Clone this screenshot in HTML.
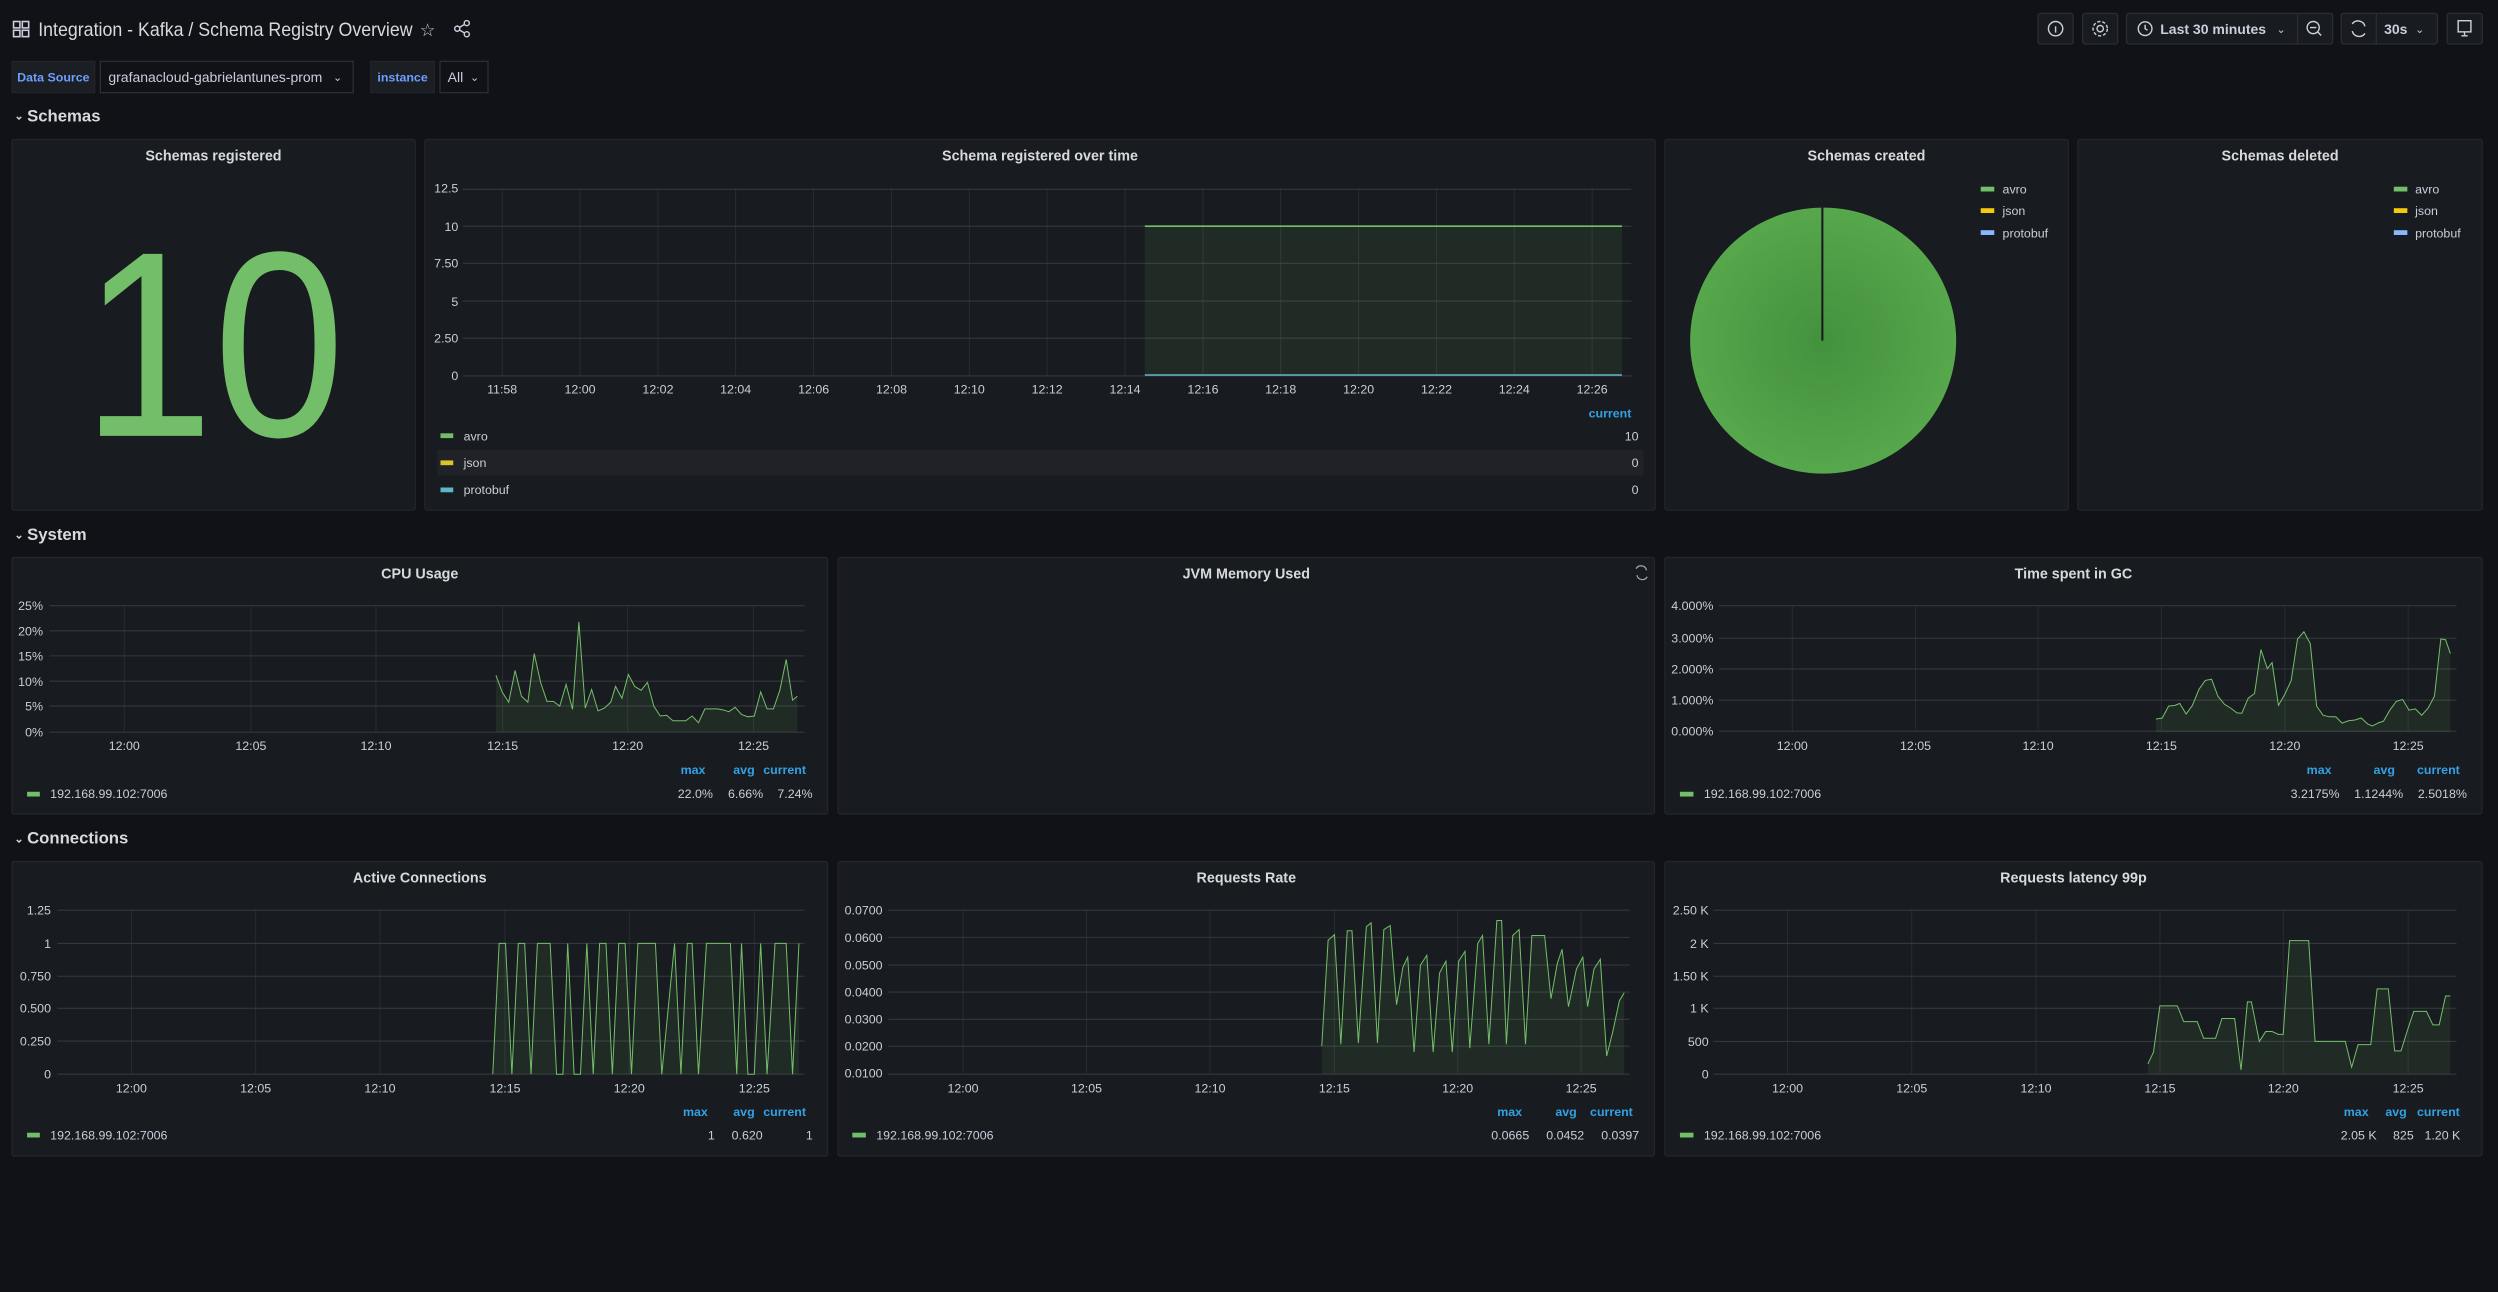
<!DOCTYPE html>
<html><head><meta charset="utf-8"><style>
html,body{margin:0;padding:0;background:#111217;}
svg{display:block;}
text{font-family:"Liberation Sans",sans-serif;}
</style></head><body>
<svg width="2498" height="1292" viewBox="0 0 1568 811" preserveAspectRatio="none" xmlns="http://www.w3.org/2000/svg">
<defs>
<radialGradient id="pg" cx="0.5" cy="0.5" r="0.5"><stop offset="0" stop-color="#43913d"/><stop offset="1" stop-color="#57a74c"/></radialGradient>
</defs>
<rect width="1568" height="811" fill="#111217"/>
<!-- header -->
<g fill="none" stroke="#ccccdc" stroke-width="1"><rect x="8.5" y="13.5" width="4" height="4"/><rect x="14" y="13.5" width="4" height="4"/><rect x="8.5" y="19" width="4" height="4"/><rect x="14" y="19" width="4" height="4"/></g>
<text x="24" y="22.6" font-size="12" fill="#d8d9da" textLength="235" lengthAdjust="spacingAndGlyphs">Integration - Kafka  / Schema Registry Overview</text>
<text x="263.5" y="22.5" font-size="11" fill="#ccccdc">☆</text>
<g stroke="#ccccdc" stroke-width="0.9" fill="none"><circle cx="287" cy="18" r="1.6"/><circle cx="293" cy="14.5" r="1.6"/><circle cx="293" cy="21.5" r="1.6"/><path d="M288.4 17.2L291.6 15.3M288.4 18.8L291.6 20.7"/></g>
<g fill="#181b1f" stroke="#2a2d33" stroke-width="0.8">
<rect x="1279.3" y="8.4" width="22" height="19.2" rx="1.5"/>
<rect x="1307.3" y="8.4" width="22" height="19.2" rx="1.5"/>
<rect x="1334.8" y="8.4" width="129.4" height="19.2" rx="1.5"/>
<rect x="1469.6" y="8.4" width="60.4" height="19.2" rx="1.5"/>
<rect x="1536.1" y="8.4" width="22" height="19.2" rx="1.5"/>
</g>
<g stroke="#2a2d33" stroke-width="0.8"><line x1="1442.2" y1="8.4" x2="1442.2" y2="27.6"/><line x1="1491.6" y1="8.4" x2="1491.6" y2="27.6"/></g>
<g stroke="#ccccdc" stroke-width="0.9" fill="none">
<circle cx="1290.3" cy="18" r="4.5"/><line x1="1290.3" y1="16.5" x2="1290.3" y2="20.5"/>
<circle cx="1318.3" cy="18" r="2"/><circle cx="1318.3" cy="18" r="4.5" stroke-dasharray="2 1.2"/>
<circle cx="1346.5" cy="18" r="4.3"/><path d="M1346.5 15.5V18L1348 19"/>
<circle cx="1452" cy="17.3" r="3.8"/><line x1="1450" y1="17.3" x2="1454" y2="17.3"/><line x1="1454.8" y1="20" x2="1457" y2="22.3"/>
<path d="M1476.5 15A4.5 4.5 0 0 1 1484.5 16.5M1484.5 21A4.5 4.5 0 0 1 1476.5 19.5"/>
<rect x="1543" y="13" width="8" height="7"/><path d="M1545 22.5H1549M1547 20V22.5"/>
</g>
<text x="1356" y="21.3" font-size="8.8" fill="#ccccdc" font-weight="bold">Last 30 minutes</text>
<text x="1429" y="20.8" font-size="7" fill="#ccccdc">⌄</text>
<text x="1496.5" y="21.3" font-size="8.8" fill="#ccccdc" font-weight="bold">30s</text>
<text x="1516" y="20.8" font-size="7" fill="#ccccdc">⌄</text>
<!-- variables -->
<rect x="7.5" y="38.5" width="52" height="19.7" fill="#1b1e23" stroke="#24272c" stroke-width="0.6"/>
<text x="33.5" y="51.3" font-size="7.8" fill="#6e9fff" text-anchor="middle" font-weight="bold">Data Source</text>
<rect x="63" y="38.5" width="158.7" height="19.7" fill="#111217" stroke="#2c2f35" stroke-width="0.8"/>
<text x="68" y="51.5" font-size="8.8" fill="#ccccdc">grafanacloud-gabrielantunes-prom</text>
<text x="209" y="51" font-size="7" fill="#ccccdc">⌄</text>
<rect x="232.7" y="38.5" width="40" height="19.7" fill="#1b1e23" stroke="#24272c" stroke-width="0.6"/>
<text x="252.7" y="51.3" font-size="7.8" fill="#6e9fff" text-anchor="middle" font-weight="bold">instance</text>
<rect x="276.2" y="38.5" width="30.1" height="19.7" fill="#111217" stroke="#2c2f35" stroke-width="0.8"/>
<text x="281" y="51.5" font-size="8.8" fill="#ccccdc">All</text>
<text x="295" y="51" font-size="7" fill="#ccccdc">⌄</text>
<!-- row headers -->
<g font-size="10.5" fill="#d8d9da" font-weight="bold">
<text x="9" y="75" font-size="7">⌄</text><text x="17" y="76.3">Schemas</text>
<text x="9" y="338" font-size="7">⌄</text><text x="17" y="339">System</text>
<text x="9" y="529" font-size="7">⌄</text><text x="17" y="529.5">Connections</text>
</g>
<!-- panels -->
<g fill="#181b1f" stroke="#22252b" stroke-width="0.8">
<rect x="7.5" y="87.5" width="253.2" height="232.7" rx="1.5"/>
<rect x="266.7" y="87.5" width="772.3" height="232.7" rx="1.5"/>
<rect x="1045" y="87.5" width="253.3" height="232.7" rx="1.5"/>
<rect x="1304.3" y="87.5" width="253.8" height="232.7" rx="1.5"/>
<rect x="7.5" y="349.9" width="512" height="161.1" rx="1.5"/>
<rect x="526" y="349.9" width="512.5" height="161.1" rx="1.5"/>
<rect x="1045" y="349.9" width="513" height="161.1" rx="1.5"/>
<rect x="7.5" y="540.8" width="512" height="184.9" rx="1.5"/>
<rect x="526" y="540.8" width="512.5" height="184.9" rx="1.5"/>
<rect x="1045" y="540.8" width="513" height="184.9" rx="1.5"/>
</g>
<g font-size="9" fill="#d8d9da" text-anchor="middle" font-weight="bold">
<text x="134" y="100.8">Schemas registered</text>
<text x="652.8" y="100.8">Schema registered over time</text>
<text x="1171.6" y="100.8">Schemas created</text>
<text x="1431.2" y="100.8">Schemas deleted</text>
<text x="263.5" y="363">CPU Usage</text>
<text x="782.3" y="363">JVM Memory Used</text>
<text x="1301.5" y="363">Time spent in GC</text>
<text x="263.5" y="554">Active Connections</text>
<text x="782.3" y="554">Requests Rate</text>
<text x="1301.5" y="554">Requests latency 99p</text>
</g>
<g stroke="#9fa2a8" stroke-width="0.8" fill="none"><path d="M1027 357A3.5 3.5 0 0 1 1033.5 358M1034 362A3.5 3.5 0 0 1 1027.5 361"/></g>
<!-- big 10 -->
<text x="134" y="273.6" font-size="166" fill="#73bf69" text-anchor="middle" textLength="165" lengthAdjust="spacingAndGlyphs">10</text>

<!-- schema over time -->
<g stroke="#2a2d33" stroke-width="0.6">
<line x1="315.2" y1="118" x2="315.2" y2="236"/><line x1="364.1" y1="118" x2="364.1" y2="236"/><line x1="413" y1="118" x2="413" y2="236"/><line x1="461.8" y1="118" x2="461.8" y2="236"/><line x1="510.7" y1="118" x2="510.7" y2="236"/><line x1="559.6" y1="118" x2="559.6" y2="236"/><line x1="608.4" y1="118" x2="608.4" y2="236"/><line x1="657.3" y1="118" x2="657.3" y2="236"/><line x1="706.2" y1="118" x2="706.2" y2="236"/><line x1="755.1" y1="118" x2="755.1" y2="236"/><line x1="803.9" y1="118" x2="803.9" y2="236"/><line x1="852.8" y1="118" x2="852.8" y2="236"/><line x1="901.7" y1="118" x2="901.7" y2="236"/><line x1="950.5" y1="118" x2="950.5" y2="236"/><line x1="999.4" y1="118" x2="999.4" y2="236"/>
</g>
<g stroke="#34373d" stroke-width="0.7">
<line x1="290.5" y1="118.8" x2="1024" y2="118.8"/><line x1="290.5" y1="142" x2="1024" y2="142"/><line x1="290.5" y1="165.3" x2="1024" y2="165.3"/><line x1="290.5" y1="189" x2="1024" y2="189"/><line x1="290.5" y1="212.3" x2="1024" y2="212.3"/><line x1="290.5" y1="236" x2="1024" y2="236"/>
</g>
<rect x="718.6" y="142" width="299.5" height="94" fill="#73bf69" fill-opacity="0.1"/>
<line x1="718.6" y1="142" x2="1018.1" y2="142" stroke="#73bf69" stroke-width="1"/>
<line x1="718.6" y1="235.4" x2="1018.1" y2="235.4" stroke="#5fb6c9" stroke-width="1"/>
<g font-size="7.8" fill="#c7d0d9" text-anchor="end">
<text x="287.7" y="121">12.5</text><text x="287.7" y="145">10</text><text x="287.7" y="168">7.50</text><text x="287.7" y="192">5</text><text x="287.7" y="215">2.50</text><text x="287.7" y="238.5">0</text>
</g>
<g font-size="7.8" fill="#c7d0d9" text-anchor="middle">
<text x="315.2" y="247">11:58</text><text x="364.1" y="247">12:00</text><text x="413" y="247">12:02</text><text x="461.8" y="247">12:04</text><text x="510.7" y="247">12:06</text><text x="559.6" y="247">12:08</text><text x="608.4" y="247">12:10</text><text x="657.3" y="247">12:12</text><text x="706.2" y="247">12:14</text><text x="755.1" y="247">12:16</text><text x="803.9" y="247">12:18</text><text x="852.8" y="247">12:20</text><text x="901.7" y="247">12:22</text><text x="950.5" y="247">12:24</text><text x="999.4" y="247">12:26</text>
</g>
<text x="1024" y="262" font-size="7.8" fill="#33a2e5" text-anchor="end" font-weight="bold">current</text>
<rect x="274.5" y="282.5" width="757" height="16" fill="#202228"/>
<rect x="276.5" y="272" width="8" height="3" fill="#73bf69"/>
<rect x="276.5" y="289" width="8" height="3" fill="#fade2a" opacity="0.85"/>
<rect x="276.5" y="306" width="8" height="3" fill="#5fb6c9"/>
<g font-size="7.8" fill="#ccccdc"><text x="291" y="276.5">avro</text><text x="291" y="293">json</text><text x="291" y="310">protobuf</text></g>
<g font-size="7.8" fill="#ccccdc" text-anchor="end"><text x="1028.5" y="276.5">10</text><text x="1028.5" y="293">0</text><text x="1028.5" y="310">0</text></g>

<!-- pie -->
<circle cx="1144.4" cy="213.8" r="83.5" fill="url(#pg)"/>
<line x1="1143.9" y1="130" x2="1143.9" y2="213.8" stroke="#181b1f" stroke-width="1.3"/>
<g font-size="7.8" fill="#ccccdc">
<rect x="1243.3" y="117.2" width="8.5" height="3" fill="#73bf69"/><text x="1257" y="121.5">avro</text>
<rect x="1243.3" y="130.7" width="8.5" height="3" fill="#f2cc0c"/><text x="1257" y="135">json</text>
<rect x="1243.3" y="144.5" width="8.5" height="3" fill="#8ab8ff"/><text x="1257" y="149">protobuf</text>
<rect x="1502.6" y="117.2" width="8.5" height="3" fill="#73bf69"/><text x="1516" y="121.5">avro</text>
<rect x="1502.6" y="130.7" width="8.5" height="3" fill="#f2cc0c"/><text x="1516" y="135">json</text>
<rect x="1502.6" y="144.5" width="8.5" height="3" fill="#8ab8ff"/><text x="1516" y="149">protobuf</text>
</g>

<!-- CPU -->
<g stroke="#2a2d33" stroke-width="0.6"><line x1="78" y1="380" x2="78" y2="459.6"/><line x1="157.5" y1="380" x2="157.5" y2="459.6"/><line x1="236" y1="380" x2="236" y2="459.6"/><line x1="315.5" y1="380" x2="315.5" y2="459.6"/><line x1="394" y1="380" x2="394" y2="459.6"/><line x1="473" y1="380" x2="473" y2="459.6"/></g>
<g stroke="#34373d" stroke-width="0.7"><line x1="31" y1="380.2" x2="505" y2="380.2"/><line x1="31" y1="396" x2="505" y2="396"/><line x1="31" y1="411.7" x2="505" y2="411.7"/><line x1="31" y1="427.6" x2="505" y2="427.6"/><line x1="31" y1="443.2" x2="505" y2="443.2"/><line x1="31" y1="459.6" x2="505" y2="459.6"/></g>
<g font-size="7.8" fill="#c7d0d9" text-anchor="end"><text x="27" y="383">25%</text><text x="27" y="399">20%</text><text x="27" y="414.5">15%</text><text x="27" y="430.5">10%</text><text x="27" y="446">5%</text><text x="27" y="462.3">0%</text></g>
<g font-size="7.8" fill="#c7d0d9" text-anchor="middle"><text x="78" y="470.7">12:00</text><text x="157.5" y="470.7">12:05</text><text x="236" y="470.7">12:10</text><text x="315.5" y="470.7">12:15</text><text x="394" y="470.7">12:20</text><text x="473" y="470.7">12:25</text></g>
<g transform="translate(0,339) scale(0.5005,0.2482)">
<polygon fill="#73bf69" fill-opacity="0.1" points="622,486 622,342 630,385 638,410 646,330 654,395 662,410 670,287 678,360 686,408 694,408 702,420 710,365 718,428 726,207 734,425 742,378 750,432 758,425 766,410 772,370 780,400 788,340 796,370 804,380 812,360 820,420 828,445 836,443 844,457 852,457 860,457 868,445 876,462 884,427 892,427 900,427 908,430 914,434 922,423 930,441 938,447 946,445 954,384 962,427 970,427 978,380 986,302 994,405 1000,395 1000,486"/>
<polyline fill="none" stroke="#73bf69" stroke-width="1" vector-effect="non-scaling-stroke" points="622,342 630,385 638,410 646,330 654,395 662,410 670,287 678,360 686,408 694,408 702,420 710,365 718,428 726,207 734,425 742,378 750,432 758,425 766,410 772,370 780,400 788,340 796,370 804,380 812,360 820,420 828,445 836,443 844,457 852,457 860,457 868,445 876,462 884,427 892,427 900,427 908,430 914,434 922,423 930,441 938,447 946,445 954,384 962,427 970,427 978,380 986,302 994,405 1000,395"/>
</g>
<g font-size="7.8" fill="#33a2e5" text-anchor="middle" font-weight="bold"><text x="435" y="486">max</text><text x="467" y="486">avg</text><text x="492.5" y="486">current</text></g>
<rect x="17" y="497" width="8" height="3" fill="#73bf69"/>
<text x="31.5" y="501" font-size="7.8" fill="#ccccdc">192.168.99.102:7006</text>
<g font-size="7.8" fill="#ccccdc" text-anchor="middle"><text x="436.5" y="501">22.0%</text><text x="468" y="501">6.66%</text><text x="499" y="501">7.24%</text></g>

<!-- GC -->
<g stroke="#2a2d33" stroke-width="0.6"><line x1="1125" y1="380" x2="1125" y2="459" /><line x1="1202.4" y1="380" x2="1202.4" y2="459"/><line x1="1279.3" y1="380" x2="1279.3" y2="459"/><line x1="1356.7" y1="380" x2="1356.7" y2="459"/><line x1="1434.2" y1="380" x2="1434.2" y2="459"/><line x1="1511.6" y1="380" x2="1511.6" y2="459"/></g>
<g stroke="#34373d" stroke-width="0.7"><line x1="1079" y1="380.2" x2="1542" y2="380.2"/><line x1="1079" y1="400.6" x2="1542" y2="400.6"/><line x1="1079" y1="419.9" x2="1542" y2="419.9"/><line x1="1079" y1="439.5" x2="1542" y2="439.5"/><line x1="1079" y1="459" x2="1542" y2="459"/></g>
<g font-size="7.8" fill="#c7d0d9" text-anchor="end"><text x="1075.5" y="383">4.000%</text><text x="1075.5" y="403.4">3.000%</text><text x="1075.5" y="422.7">2.000%</text><text x="1075.5" y="442.3">1.000%</text><text x="1075.5" y="461.8">0.000%</text></g>
<g font-size="7.8" fill="#c7d0d9" text-anchor="middle"><text x="1125" y="470.7">12:00</text><text x="1202.4" y="470.7">12:05</text><text x="1279.3" y="470.7">12:10</text><text x="1356.7" y="470.7">12:15</text><text x="1434.2" y="470.7">12:20</text><text x="1511.6" y="470.7">12:25</text></g>
<g transform="translate(784.7,339) scale(0.4996,0.2482)">
<polygon fill="#73bf69" fill-opacity="0.1" points="1138,486 1138,453 1146,450 1154,420 1162,418 1168,413 1176,440 1184,418 1192,378 1200,355 1208,352 1216,395 1224,415 1232,425 1240,437 1246,438 1254,400 1262,388 1270,277 1278,325 1284,310 1292,418 1300,390 1308,355 1316,250 1324,232 1332,262 1340,420 1348,443 1356,447 1364,447 1372,463 1380,457 1388,455 1396,450 1404,465 1410,470 1418,462 1424,458 1432,430 1440,408 1448,403 1456,430 1464,427 1472,443 1480,425 1488,395 1496,250 1502,252 1508,287 1508,486"/>
<polyline fill="none" stroke="#73bf69" stroke-width="1" vector-effect="non-scaling-stroke" points="1138,453 1146,450 1154,420 1162,418 1168,413 1176,440 1184,418 1192,378 1200,355 1208,352 1216,395 1224,415 1232,425 1240,437 1246,438 1254,400 1262,388 1270,277 1278,325 1284,310 1292,418 1300,390 1308,355 1316,250 1324,232 1332,262 1340,420 1348,443 1356,447 1364,447 1372,463 1380,457 1388,455 1396,450 1404,465 1410,470 1418,462 1424,458 1432,430 1440,408 1448,403 1456,430 1464,427 1472,443 1480,425 1488,395 1496,250 1502,252 1508,287"/>
</g>
<g font-size="7.8" fill="#33a2e5" text-anchor="middle" font-weight="bold"><text x="1455.7" y="486">max</text><text x="1496.6" y="486">avg</text><text x="1530.6" y="486">current</text></g>
<rect x="1054.5" y="497" width="8.5" height="3" fill="#73bf69"/>
<text x="1069.5" y="501" font-size="7.8" fill="#ccccdc">192.168.99.102:7006</text>
<g font-size="7.8" fill="#ccccdc" text-anchor="middle"><text x="1453.2" y="501">3.2175%</text><text x="1493.1" y="501">1.1244%</text><text x="1533.1" y="501">2.5018%</text></g>

<!-- Active connections -->
<g stroke="#2a2d33" stroke-width="0.6"><line x1="82.5" y1="571" x2="82.5" y2="674.3"/><line x1="160.5" y1="571" x2="160.5" y2="674.3"/><line x1="238.5" y1="571" x2="238.5" y2="674.3"/><line x1="317" y1="571" x2="317" y2="674.3"/><line x1="395" y1="571" x2="395" y2="674.3"/><line x1="473.5" y1="571" x2="473.5" y2="674.3"/></g>
<g stroke="#34373d" stroke-width="0.7"><line x1="36" y1="571.3" x2="505" y2="571.3"/><line x1="36" y1="592.2" x2="505" y2="592.2"/><line x1="36" y1="612.8" x2="505" y2="612.8"/><line x1="36" y1="632.9" x2="505" y2="632.9"/><line x1="36" y1="653.5" x2="505" y2="653.5"/><line x1="36" y1="674.3" x2="505" y2="674.3"/></g>
<g font-size="7.8" fill="#c7d0d9" text-anchor="end"><text x="32" y="574">1.25</text><text x="32" y="595">1</text><text x="32" y="615.6">0.750</text><text x="32" y="635.7">0.500</text><text x="32" y="656.3">0.250</text><text x="32" y="677">0</text></g>
<g font-size="7.8" fill="#c7d0d9" text-anchor="middle"><text x="82.5" y="685.7">12:00</text><text x="160.5" y="685.7">12:05</text><text x="238.5" y="685.7">12:10</text><text x="317" y="685.7">12:15</text><text x="395" y="685.7">12:20</text><text x="473.5" y="685.7">12:25</text></g>
<g transform="translate(0,339) scale(0.5005,0.2482)">
<polygon fill="#73bf69" fill-opacity="0.1" points="618,1351 626,1020 634,1020 642,1351 650,1020 658,1020 666,1351 674,1020 690,1020 698,1351 706,1351 712,1020 720,1351 728,1351 736,1020 744,1351 752,1020 760,1020 768,1351 776,1020 784,1020 792,1351 800,1020 822,1020 830,1351 846,1020 854,1351 862,1020 868,1020 876,1351 886,1020 916,1020 924,1351 930,1020 938,1351 946,1351 954,1020 962,1351 972,1020 986,1020 994,1351 1002,1020 1002,1351"/>
<polyline fill="none" stroke="#73bf69" stroke-width="1" vector-effect="non-scaling-stroke" points="618,1351 626,1020 634,1020 642,1351 650,1020 658,1020 666,1351 674,1020 690,1020 698,1351 706,1351 712,1020 720,1351 728,1351 736,1020 744,1351 752,1020 760,1020 768,1351 776,1020 784,1020 792,1351 800,1020 822,1020 830,1351 846,1020 854,1351 862,1020 868,1020 876,1351 886,1020 916,1020 924,1351 930,1020 938,1351 946,1351 954,1020 962,1351 972,1020 986,1020 994,1351 1002,1020"/>
</g>
<g font-size="7.8" fill="#33a2e5" text-anchor="middle" font-weight="bold"><text x="436.5" y="700.5">max</text><text x="467" y="700.5">avg</text><text x="492.5" y="700.5">current</text></g>
<rect x="17" y="711" width="8" height="3" fill="#73bf69"/>
<text x="31.5" y="715.3" font-size="7.8" fill="#ccccdc">192.168.99.102:7006</text>
<g font-size="7.8" fill="#ccccdc" text-anchor="middle"><text x="446.5" y="715.3">1</text><text x="469" y="715.3">0.620</text><text x="508" y="715.3">1</text></g>

<!-- Requests rate -->
<g stroke="#2a2d33" stroke-width="0.6"><line x1="604.5" y1="571" x2="604.5" y2="673.6"/><line x1="682" y1="571" x2="682" y2="673.6"/><line x1="759.5" y1="571" x2="759.5" y2="673.6"/><line x1="837.6" y1="571" x2="837.6" y2="673.6"/><line x1="915" y1="571" x2="915" y2="673.6"/><line x1="992.5" y1="571" x2="992.5" y2="673.6"/></g>
<g stroke="#34373d" stroke-width="0.7"><line x1="557.5" y1="571.3" x2="1023" y2="571.3"/><line x1="557.5" y1="588.4" x2="1023" y2="588.4"/><line x1="557.5" y1="605.8" x2="1023" y2="605.8"/><line x1="557.5" y1="622.7" x2="1023" y2="622.7"/><line x1="557.5" y1="639.8" x2="1023" y2="639.8"/><line x1="557.5" y1="656.7" x2="1023" y2="656.7"/><line x1="557.5" y1="674.3" x2="1023" y2="674.3"/></g>
<g font-size="7.8" fill="#c7d0d9" text-anchor="end"><text x="554" y="574">0.0700</text><text x="554" y="591.2">0.0600</text><text x="554" y="608.6">0.0500</text><text x="554" y="625.5">0.0400</text><text x="554" y="642.6">0.0300</text><text x="554" y="659.5">0.0200</text><text x="554" y="676.4">0.0100</text></g>
<g font-size="7.8" fill="#c7d0d9" text-anchor="middle"><text x="604.5" y="685.7">12:00</text><text x="682" y="685.7">12:05</text><text x="759.5" y="685.7">12:10</text><text x="837.6" y="685.7">12:15</text><text x="915" y="685.7">12:20</text><text x="992.5" y="685.7">12:25</text></g>
<g transform="translate(784.7,339) scale(0.4996,0.2482)">
<polygon fill="#73bf69" fill-opacity="0.1" points="90,1351 90,1280 98,1012 106,998 114,1275 122,988 128,988 136,1272 146,978 152,968 160,1272 168,985 176,975 184,1175 192,1080 198,1055 206,1295 214,1075 222,1050 230,1295 238,1095 246,1065 254,1295 262,1065 270,1040 276,1285 286,1020 292,1000 300,1275 310,962 316,962 322,1275 330,1000 338,985 346,1275 354,1000 370,1000 378,1160 386,1070 392,1035 400,1180 410,1085 418,1055 424,1180 432,1085 440,1060 448,1305 456,1240 464,1165 470,1145 470,1351"/>
<polyline fill="none" stroke="#73bf69" stroke-width="1" vector-effect="non-scaling-stroke" points="90,1280 98,1012 106,998 114,1275 122,988 128,988 136,1272 146,978 152,968 160,1272 168,985 176,975 184,1175 192,1080 198,1055 206,1295 214,1075 222,1050 230,1295 238,1095 246,1065 254,1295 262,1065 270,1040 276,1285 286,1020 292,1000 300,1275 310,962 316,962 322,1275 330,1000 338,985 346,1275 354,1000 370,1000 378,1160 386,1070 392,1035 400,1180 410,1085 418,1055 424,1180 432,1085 440,1060 448,1305 456,1240 464,1165 470,1145"/>
</g>
<g font-size="7.8" fill="#33a2e5" text-anchor="middle" font-weight="bold"><text x="947.6" y="700.5">max</text><text x="983" y="700.5">avg</text><text x="1011.5" y="700.5">current</text></g>
<rect x="535" y="711" width="8.5" height="3" fill="#73bf69"/>
<text x="550" y="715.3" font-size="7.8" fill="#ccccdc">192.168.99.102:7006</text>
<g font-size="7.8" fill="#ccccdc" text-anchor="middle"><text x="948" y="715.3">0.0665</text><text x="982.5" y="715.3">0.0452</text><text x="1017" y="715.3">0.0397</text></g>

<!-- Latency -->
<g stroke="#2a2d33" stroke-width="0.6"><line x1="1122" y1="571" x2="1122" y2="674"/><line x1="1200" y1="571" x2="1200" y2="674"/><line x1="1278" y1="571" x2="1278" y2="674"/><line x1="1355.8" y1="571" x2="1355.8" y2="674"/><line x1="1433.2" y1="571" x2="1433.2" y2="674"/><line x1="1511.6" y1="571" x2="1511.6" y2="674"/></g>
<g stroke="#34373d" stroke-width="0.7"><line x1="1075.5" y1="571.3" x2="1542" y2="571.3"/><line x1="1075.5" y1="592.2" x2="1542" y2="592.2"/><line x1="1075.5" y1="612.8" x2="1542" y2="612.8"/><line x1="1075.5" y1="632.9" x2="1542" y2="632.9"/><line x1="1075.5" y1="653.7" x2="1542" y2="653.7"/><line x1="1075.5" y1="674.3" x2="1542" y2="674.3"/></g>
<g font-size="7.8" fill="#c7d0d9" text-anchor="end"><text x="1072.5" y="574">2.50 K</text><text x="1072.5" y="595">2 K</text><text x="1072.5" y="615.6">1.50 K</text><text x="1072.5" y="635.7">1 K</text><text x="1072.5" y="656.5">500</text><text x="1072.5" y="677">0</text></g>
<g font-size="7.8" fill="#c7d0d9" text-anchor="middle"><text x="1122" y="685.7">12:00</text><text x="1200" y="685.7">12:05</text><text x="1278" y="685.7">12:10</text><text x="1355.8" y="685.7">12:15</text><text x="1433.2" y="685.7">12:20</text><text x="1511.6" y="685.7">12:25</text></g>
<g transform="translate(784.7,339) scale(0.4996,0.2482)">
<polygon fill="#73bf69" fill-opacity="0.1" points="1128,1351 1128,1325 1135,1295 1143,1178 1165,1178 1173,1218 1190,1218 1198,1260 1213,1260 1221,1210 1237,1210 1245,1340 1253,1168 1258,1168 1268,1268 1276,1243 1284,1243 1292,1250 1298,1250 1306,1013 1330,1013 1338,1268 1376,1268 1384,1333 1392,1276 1408,1276 1416,1135 1430,1135 1438,1292 1446,1292 1454,1240 1462,1192 1478,1192 1486,1226 1494,1226 1502,1153 1508,1153 1508,1351"/>
<polyline fill="none" stroke="#73bf69" stroke-width="1" vector-effect="non-scaling-stroke" points="1128,1325 1135,1295 1143,1178 1165,1178 1173,1218 1190,1218 1198,1260 1213,1260 1221,1210 1237,1210 1245,1340 1253,1168 1258,1168 1268,1268 1276,1243 1284,1243 1292,1250 1298,1250 1306,1013 1330,1013 1338,1268 1376,1268 1384,1333 1392,1276 1408,1276 1416,1135 1430,1135 1438,1292 1446,1292 1454,1240 1462,1192 1478,1192 1486,1226 1494,1226 1502,1153 1508,1153"/>
</g>
<g font-size="7.8" fill="#33a2e5" text-anchor="middle" font-weight="bold"><text x="1479" y="700.5">max</text><text x="1504" y="700.5">avg</text><text x="1530.6" y="700.5">current</text></g>
<rect x="1054.5" y="711" width="8.5" height="3" fill="#73bf69"/>
<text x="1069.5" y="715.3" font-size="7.8" fill="#ccccdc">192.168.99.102:7006</text>
<g font-size="7.8" fill="#ccccdc" text-anchor="middle"><text x="1480.6" y="715.3">2.05 K</text><text x="1508.6" y="715.3">825</text><text x="1533.1" y="715.3">1.20 K</text></g>
</svg>
</body></html>
